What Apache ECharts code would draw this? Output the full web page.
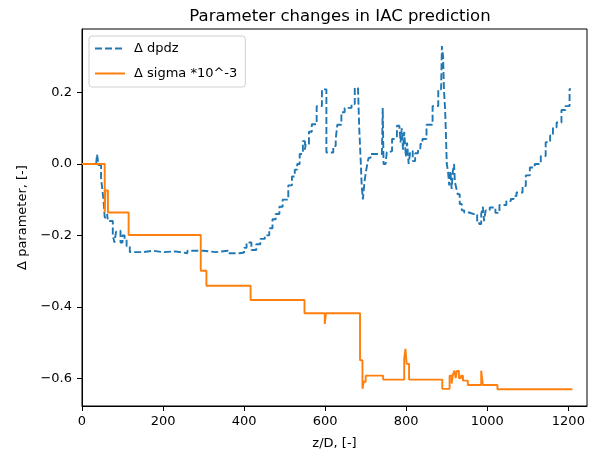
<!DOCTYPE html>
<html><head><meta charset="utf-8">
<script src="https://cdn.jsdelivr.net/npm/echarts@6/dist/echarts.min.js"></script>
<style>html,body{margin:0;padding:0;background:#fff}#c{width:594px;height:455px}</style>
</head><body><div id="c"></div>
<script>
// ---- data ----
const dpdzX = [35,37,41,47,50,53,56,62,64,71,76,80,84,88,95,100,105,110,118,150,175,200,230,260,300,330,360,389,400,406,418,430,440,451,462,470,478,487,495,509,518,525,531,537,545,550,552,560,567,579,592,603,611,620,626,630,640,648,665,673,681,684,688,690,693,697,700,704,707,712,740,742,744,749,752,757,765,772,777,783,786,789,792,795,799,802,806,810,816,822,829,835,840,850,865,879,886,888,891,893,896,898,900,903,906,909,912,915,918,920,924,927,932,937,943,955,965,975,980,985,989,992,996,1006,1020,1030,1047,1058,1065,1072,1087,1095,1105,1117,1132,1144,1155,1162,1171,1183,1193,1203,1206];
const dpdzY = [0,0.027,-0.003,-0.04,-0.07,-0.1,-0.15,-0.14,-0.16,-0.16,-0.2,-0.22,-0.19,-0.187,-0.22,-0.2,-0.21,-0.23,-0.247,-0.243,-0.247,-0.245,-0.25,-0.243,-0.247,-0.243,-0.25,-0.248,-0.235,-0.22,-0.241,-0.225,-0.21,-0.2,-0.18,-0.155,-0.14,-0.12,-0.1,-0.06,-0.035,-0.016,0.0,0.028,0.064,0.04,0.056,0.09,0.111,0.162,0.209,0.032,0.032,0.05,0.07,0.11,0.145,0.157,0.168,0.213,0.213,0.1,0.0,-0.06,-0.099,-0.05,-0.025,0.0,0.017,0.028,0.028,0.157,0.0,0.003,0.033,0.036,0.07,0.074,0.107,0.11,0.06,0.1,0.04,0.09,0.02,0.06,0.0,0.036,0.008,0.03,0.043,0.056,0.07,0.11,0.162,0.209,0.21,0.33,0.3,0.21,0.15,0.08,0.0,-0.02,-0.06,-0.02,-0.07,-0.02,0.0,-0.05,-0.07,-0.085,-0.112,-0.13,-0.136,-0.14,-0.14,-0.16,-0.168,-0.14,-0.12,-0.16,-0.13,-0.122,-0.137,-0.115,-0.104,-0.098,-0.09,-0.08,-0.062,-0.032,-0.01,0.0,0.022,0.061,0.08,0.103,0.116,0.151,0.162,0.21,0.21];
const sigmaX = [0,56,58,64,115,293,307,416,549,599,602,681,686,692,695,700,743,795,798,801,807,889,907,912,915,919,922,925,930,935,940,952,985,989,1025,1210];
const sigmaY = [0,-0.136,-0.074,-0.136,-0.199,-0.299,-0.341,-0.381,-0.418,-0.448,-0.418,-0.418,-0.55,-0.630,-0.61,-0.593,-0.604,-0.545,-0.518,-0.56,-0.604,-0.630,-0.593,-0.615,-0.59,-0.579,-0.6,-0.58,-0.6,-0.593,-0.607,-0.619,-0.579,-0.619,-0.631,-0.631];
const xTicks = [0,200,400,600,800,1000,1200];
const yTicks = [-0.6,-0.4,-0.2,0.0,0.2];
const names = ['\u0394 dpdz','\u0394 sigma *10^-3'];
const title = 'Parameter changes in IAC prediction';
const xName = 'z/D, [-]';
const yName = '\u0394 parameter, [-]';
// --------------------------------------
const pair = (xs, ys) => xs.map((x, i) => [x, ys[i]]);
const fmtY = v => (Math.round(v*10)/10).toFixed(1).replace('-', '\u2212');
const FONT = 'DejaVu Sans';
const chart = echarts.init(document.getElementById('c'), null, {renderer: 'canvas'});
chart.setOption({
  animation: false,
  backgroundColor: '#fff',
  textStyle: {fontFamily: FONT},
  title: {text: title, left: 335, top: 3, textAlign: 'center',
    textStyle: {fontFamily: FONT, fontSize: 16.5, fontWeight: 'normal', color: '#000'}},
  grid: {left: 82, right: 7, top: 29, bottom: 48, show: true, borderColor: '#000', borderWidth: 1, backgroundColor: 'transparent'},
  legend: {
    left: 89, top: 36, orient: 'vertical', itemGap: 12, itemWidth: 30, itemHeight: 14,
    padding: [6, 8, 7, 5],
    backgroundColor: 'rgba(255,255,255,0.8)', borderColor: '#d0d0d0', borderWidth: 1, borderRadius: 3,
    itemStyle: {opacity: 0},
    textStyle: {fontFamily: FONT, fontSize: 13, color: '#000', padding: [0, 0, 0, 4]},
    data: names
  },
  xAxis: {
    type: 'value', min: 0, max: 1246,
    name: xName, nameLocation: 'middle', nameGap: 31,
    nameTextStyle: {fontFamily: FONT, fontSize: 13, color: '#000'},
    axisLine: {show: true, onZero: false, lineStyle: {color: '#000', width: 1}},
    axisTick: {show: true, inside: false, length: 5, lineStyle: {color: '#000'}, customValues: xTicks},
    axisLabel: {color: '#000', fontSize: 13, fontFamily: FONT, margin: 9, customValues: xTicks, formatter: v => String(v)},
    splitLine: {show: false}
  },
  yAxis: {
    type: 'value', min: -0.678, max: 0.378,
    name: yName, nameLocation: 'middle', nameGap: 52, nameRotate: 90,
    nameTextStyle: {fontFamily: FONT, fontSize: 13, color: '#000'},
    axisLine: {show: true, onZero: false, lineStyle: {color: '#000', width: 1}},
    axisTick: {show: true, inside: false, length: 5, lineStyle: {color: '#000'}, customValues: yTicks},
    axisLabel: {color: '#000', fontSize: 13, fontFamily: FONT, margin: 10, customValues: yTicks, formatter: fmtY},
    splitLine: {show: false}
  },
  series: [
    {name: names[0], type: 'line', step: 'end', data: pair(dpdzX, dpdzY), showSymbol: false, symbol: 'none',
      lineStyle: {color: '#1f77b4', width: 1.9, type: [7, 3]}, itemStyle: {color: '#1f77b4'}},
    {name: names[1], type: 'line', step: 'end', data: pair(sigmaX, sigmaY), showSymbol: false, symbol: 'none',
      lineStyle: {color: '#ff7f0e', width: 1.9}, itemStyle: {color: '#ff7f0e'}}
  ]
});
</script></body></html>
